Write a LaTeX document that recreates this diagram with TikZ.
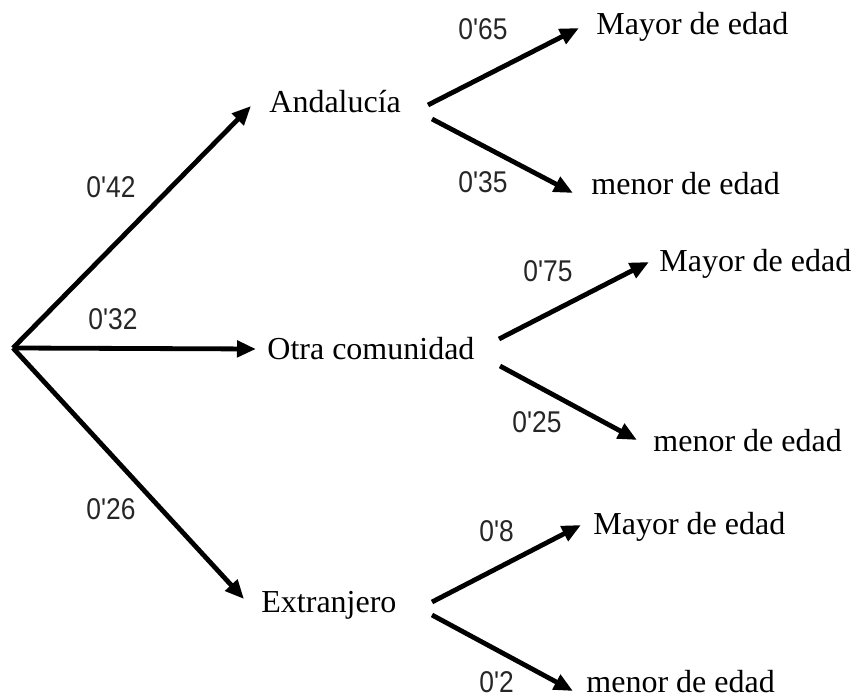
\documentclass[tikz,border=0pt]{standalone}
\usepackage{graphicx}
\usepackage{fontspec}
\setmainfont{Liberation Serif}
\newfontfamily\probfont{Liberation Sans}
\usetikzlibrary{arrows.meta}
\newcommand{\probtext}[1]{\scalebox{0.88}[1]{#1}}
\begin{document}
\begin{tikzpicture}[x=0.5pt,y=-0.5pt,
  outcome/.style={anchor=base west,inner sep=0pt,font=\fontsize{16}{19}\selectfont},
  prob/.style={anchor=base west,inner sep=0pt,text=black!85,font=\probfont\fontsize{15}{18}\selectfont},
  branch/.style={line width=2.4pt,-{Triangle[length=9.5pt,width=8pt]}}]
\useasboundingbox (0,0) rectangle (858,699);

% first level
\coordinate (root) at (13,348);
\node[outcome] (anda)  at (269,113) {Andalucía};
\node[outcome] (otra)  at (267,360) {Otra comunidad};
\node[outcome] (extr)  at (261,613) {Extranjero};
\coordinate (anda-in) at (251,106);
\coordinate (otra-in) at (256,349);
\coordinate (extr-in) at (244,599);
\draw[branch] (root) -- (anda-in);
\draw[branch] (root) -- (otra-in);
\draw[branch] (root) -- (extr-in);
\node[prob] (p1) at (86,198) {\probtext{0'42}};
\node[prob] (p2) at (88,330) {\probtext{0'32}};
\node[prob] (p3) at (86,520) {\probtext{0'26}};

% Andalucía
\node[outcome] (am) at (596,35)  {Mayor de edad};
\node[outcome] (an) at (591,195) {menor de edad};
\coordinate (a-up) at (428,105);
\coordinate (a-dn) at (432,119);
\coordinate (am-in) at (579,28);
\coordinate (an-in) at (573,193);
\draw[branch] (a-up) -- (am-in);
\draw[branch] (a-dn) -- (an-in);
\node[prob] (p4) at (458,40)  {\probtext{0'65}};
\node[prob] (p5) at (458,193) {\probtext{0'35}};

% Otra comunidad
\node[outcome] (om) at (659,272) {Mayor de edad};
\node[outcome] (on) at (653,452) {menor de edad};
\coordinate (o-up) at (499,339);
\coordinate (o-dn) at (500,366);
\coordinate (om-in) at (649,262);
\coordinate (on-in) at (637,440);
\draw[branch] (o-up) -- (om-in);
\draw[branch] (o-dn) -- (on-in);
\node[prob] (p6) at (523,282) {\probtext{0'75}};
\node[prob] (p7) at (512,433) {\probtext{0'25}};

% Extranjero
\node[outcome] (em) at (593,535) {Mayor de edad};
\node[outcome] (en) at (586,693) {menor de edad};
\coordinate (e-up) at (432,602);
\coordinate (e-dn) at (432,615);
\coordinate (em-in) at (581,525);
\coordinate (en-in) at (573,691);
\draw[branch] (e-up) -- (em-in);
\draw[branch] (e-dn) -- (en-in);
\node[prob] (p8) at (479,542) {\probtext{0'8}};
\node[prob] (p9) at (479,693) {\probtext{0'2}};
\end{tikzpicture}
\end{document}
